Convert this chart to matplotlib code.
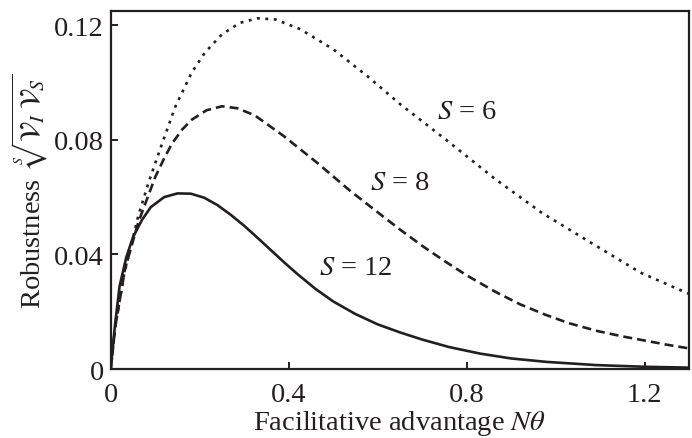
import matplotlib
matplotlib.use("Agg")
import matplotlib.pyplot as plt

plt.rcParams['font.family'] = ['Liberation Serif', 'DejaVu Serif']
plt.rcParams['mathtext.fontset'] = 'stix'

INK = '#231f20'

# S = 12 (solid)
x12 = [0, 0.01, 0.02, 0.035, 0.05, 0.07, 0.09, 0.12, 0.15, 0.18, 0.21, 0.24, 0.27, 0.30, 0.33,
       0.36, 0.39, 0.42, 0.46, 0.50, 0.55, 0.60, 0.65, 0.70, 0.76, 0.83, 0.90, 0.98, 1.09, 1.2, 1.3]
y12 = [0, 0.016, 0.029, 0.039, 0.046, 0.052, 0.0565, 0.0600, 0.0613, 0.0612, 0.0598, 0.0572, 0.0538, 0.0500, 0.0458,
       0.0415, 0.0372, 0.0331, 0.0280, 0.0236, 0.0192, 0.0156, 0.0128, 0.0103, 0.0077, 0.0054, 0.0037, 0.0025, 0.0014, 0.0008, 0.0005]

# S = 8 (dashed)
x8 = [0, 0.01, 0.032, 0.062, 0.1, 0.12, 0.137, 0.16, 0.182, 0.215, 0.25, 0.285, 0.324, 0.388, 0.463, 0.538,
      0.60, 0.65, 0.70, 0.752, 0.80, 0.864, 0.92, 0.976, 1.03, 1.093, 1.15, 1.205, 1.25, 1.3]
y8 = [0, 0.0145, 0.0349, 0.0512, 0.0670, 0.0735, 0.0785, 0.0835, 0.0870, 0.0903, 0.0917, 0.0910, 0.0885, 0.0814, 0.0721, 0.0622,
      0.0547, 0.0487, 0.0430, 0.0375, 0.0327, 0.0270, 0.0226, 0.0190, 0.0160, 0.0133, 0.0114, 0.0098, 0.0085, 0.0072]

# S = 6 (dotted)
x6 = [0, 0.01, 0.03, 0.062, 0.085, 0.115, 0.145, 0.182, 0.212, 0.25, 0.29, 0.33, 0.37, 0.426, 0.5,
      0.576, 0.65, 0.752, 0.864, 0.969, 1.078, 1.19, 1.3]
y6 = [0, 0.0145, 0.033, 0.0535, 0.0651, 0.0785, 0.0915, 0.1035, 0.1105, 0.1168, 0.1208, 0.1224, 0.1220, 0.1186, 0.1116,
      0.1023, 0.0925, 0.0802, 0.0663, 0.0545, 0.0442, 0.0337, 0.0262]

xticks = [0, 0.4, 0.8, 1.2]
xticklabels = ['0', '0.4', '0.8', '1.2']
yticks = [0, 0.04, 0.08, 0.12]
yticklabels = ['0', '0.04', '0.08', '0.12']

labels = ['$S$ = 6', '$S$ = 8', '$S$ = 12']
label_x = [0.80, 0.65, 0.551]
label_y = [0.090, 0.0652, 0.0356]

FS = 20.5

fig = plt.figure(figsize=(6.92, 4.39), dpi=100)
ax = fig.add_axes([0.160, 0.157, 0.836, 0.816])

lw = 1.9
ax.plot(x12, y12, color=INK, lw=lw, solid_capstyle='butt')
ax.plot(x8, y8, color=INK, lw=lw, linestyle=(0, (3.4, 1.9)))
ax.plot(x6, y6, color=INK, lw=lw, linestyle=(0, (1.1, 2.1)))

for t, lx, ly in zip(labels, label_x, label_y):
    ax.text(lx, ly, t, fontsize=FS, color=INK, ha='center', va='center')

ax.set_xlim(0, 1.3)
ax.set_ylim(0, 0.125)
ax.set_xticks(xticks)
ax.set_xticklabels(xticklabels)
ax.set_yticks(yticks)
ax.set_yticklabels(yticklabels)
ax.tick_params(direction='in', length=5, width=1.4, colors=INK, labelsize=FS)
ax.tick_params(axis='x', pad=9)
ax.tick_params(axis='y', pad=5)
for s in ax.spines.values():
    s.set_linewidth(1.6)
    s.set_color(INK)

ax.set_xlabel(r'Facilitative advantage $N\theta$', fontsize=FS, color=INK, labelpad=1)
ax.set_ylabel(r'Robustness  $\sqrt[S]{\mathcal{V}_I\;\mathcal{V}_S}$', fontsize=FS, color=INK, labelpad=3)

fig.savefig('out.png', dpi=100)
